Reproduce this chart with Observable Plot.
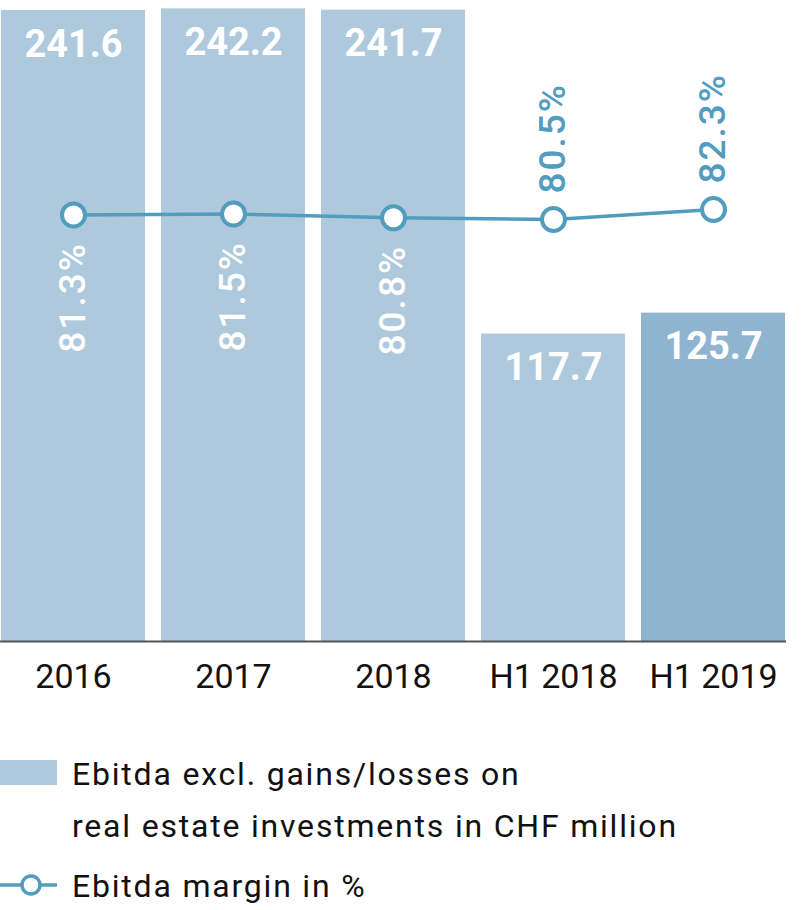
<!DOCTYPE html>
<html>
<head>
<meta charset="utf-8">
<script src="https://cdn.jsdelivr.net/npm/d3@7"></script>
<script src="https://cdn.jsdelivr.net/npm/@observablehq/plot@0.6"></script>
<style>
  html, body { margin: 0; padding: 0; background: #fff; }
  #wrap { position: relative; width: 802px; height: 910px; font-family: Roboto, "Noto Sans", sans-serif; }
  #bars, #line { position: absolute; left: 0; top: 0; }
  #legend { position: absolute; left: 0; top: 700px; }
  .pct text { letter-spacing: 2px; }
  #legend text { letter-spacing: 1.8px; }
</style>
</head>
<body>
<div id="wrap">
  <div id="bars"></div>
  <div id="line"></div>
  <div id="legend"></div>
</div>
<script>
// ---- data ----
const categories = ["2016", "2017", "2018", "H1 2018", "H1 2019"];
const ebitda = [241.6, 242.2, 241.7, 117.7, 125.7];
const marginPct = [81.3, 81.5, 80.8, 80.5, 82.3];
const legendLabels = ["Ebitda excl. gains/losses on", "real estate investments in CHF million", "Ebitda margin in %"];

// ---- styles ----
const lightBar = "#afc9dc";
const darkBar = "#8fb4cf";
const lineColor = "#529cbe";
const W = 802, H = 700;

const rows = categories.map((c, i) => ({cat: c, value: ebitda[i], pct: marginPct[i], half: c.startsWith("H1"), current: i === categories.length - 1}));

const xOpts = {type: "band", domain: categories, paddingInner: 0.103, paddingOuter: 0};
const common = {width: W, height: H, marginTop: 0, marginLeft: 0, marginRight: 16, marginBottom: 59,
  style: {fontFamily: "Roboto, 'Noto Sans', sans-serif", background: "transparent", overflow: "visible"}};

const bars = Plot.plot({
  ...common,
  x: xOpts,
  y: {domain: [0, 245.4], axis: null},
  marks: [
    Plot.barY(rows, {x: "cat", y: "value", fill: d => d.current ? darkBar : lightBar}),
    Plot.ruleY([0], {stroke: "#555", strokeWidth: 2}),
    Plot.text(rows, {x: "cat", y: "value", text: d => d.value.toFixed(1), dy: 34, fill: "white",
      fontSize: 38, fontWeight: "bold", lineAnchor: "middle"}),
    Plot.axisX({tickSize: 0, tickPadding: 22, fontSize: 34, fill: "#111", label: null})
  ]
});
document.getElementById("bars").append(bars);

const line = Plot.plot({
  ...common,
  x: {...xOpts, axis: null},
  y: {domain: [4.54, 119.92], axis: null},
  marks: [
    Plot.line(rows, {x: "cat", y: "pct", stroke: lineColor, strokeWidth: 3.5}),
    Plot.dot(rows, {x: "cat", y: "pct", r: 11.5, fill: "white", stroke: lineColor, strokeWidth: 4}),
    Plot.text(rows.filter(d => !d.half), {x: "cat", y: "pct", text: d => d.pct.toFixed(1) + "%", rotate: -90,
      textAnchor: "end", lineAnchor: "middle", dy: 27, fill: "white", fontSize: 37, fontWeight: 500}),
    Plot.text(rows.filter(d => d.half), {x: "cat", y: "pct", text: d => d.pct.toFixed(1) + "%", rotate: -90,
      textAnchor: "start", lineAnchor: "middle", dy: -26, fill: lineColor, fontSize: 37, fontWeight: 500})
  ]
});
line.classList.add("pct");
document.getElementById("line").append(line);

// ---- legend ----
const ns = "http://www.w3.org/2000/svg";
const leg = d3.select("#legend").append("svg").attr("xmlns", ns).attr("width", W).attr("height", 210)
  .style("font-family", "Roboto, 'Noto Sans', sans-serif");
leg.append("rect").attr("x", 0).attr("y", 60).attr("width", 57).attr("height", 25).attr("fill", lightBar);
leg.append("text").attr("x", 72).attr("y", 85).attr("font-size", 32).attr("fill", "#111").text(legendLabels[0]);
leg.append("text").attr("x", 72).attr("y", 137).attr("font-size", 32).attr("fill", "#111").text(legendLabels[1]);
leg.append("line").attr("x1", 0).attr("x2", 57).attr("y1", 185).attr("y2", 185).attr("stroke", lineColor).attr("stroke-width", 3.5);
leg.append("circle").attr("cx", 31).attr("cy", 185).attr("r", 9).attr("fill", "white").attr("stroke", lineColor).attr("stroke-width", 3.5);
leg.append("text").attr("x", 72).attr("y", 197).attr("font-size", 32).attr("fill", "#111").text(legendLabels[2]);
</script>
</body>
</html>
